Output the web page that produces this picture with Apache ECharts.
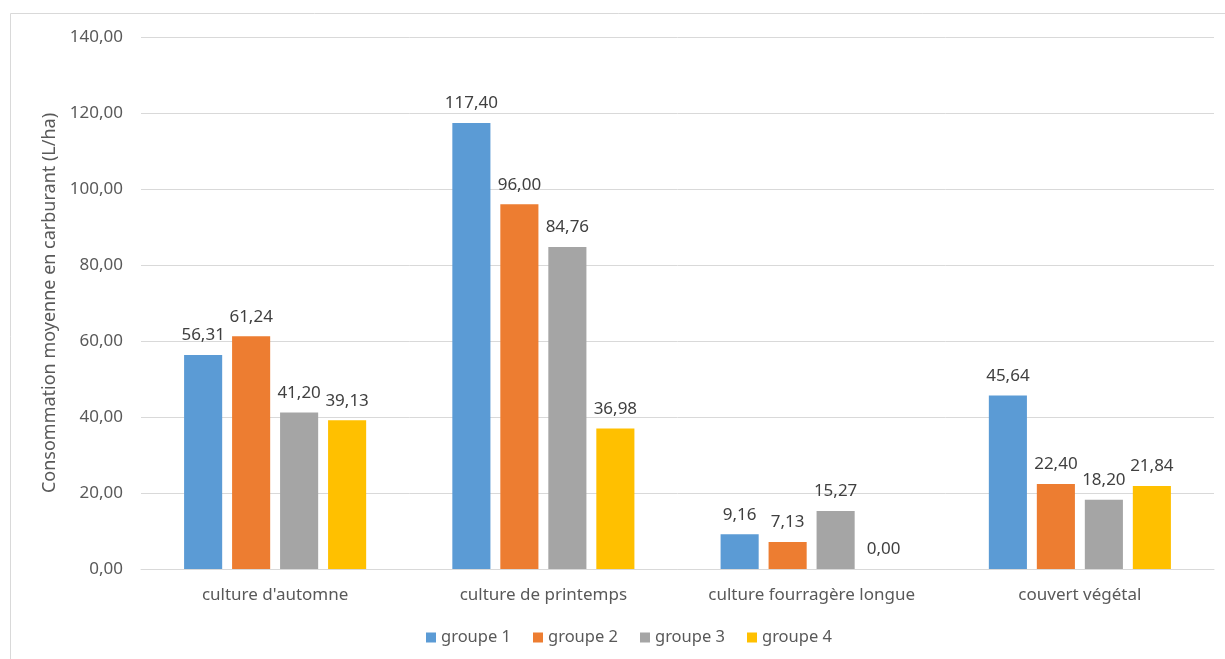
<!DOCTYPE html>
<html><head><meta charset="utf-8">
<script src="https://cdn.jsdelivr.net/npm/echarts@6/dist/echarts.min.js"></script>
<style>html,body{margin:0;padding:0;background:#fff}#c{width:1225px;height:659px}</style>
</head><body><div id="c"></div>
<script>
const categories = ["culture d'automne", "culture de printemps", "culture fourragère longue", "couvert végétal"];
const seriesNames = ["groupe 1", "groupe 2", "groupe 3", "groupe 4"];
const groupe1 = [56.31, 117.40, 9.16, 45.64];
const groupe2 = [61.24, 96.00, 7.13, 22.40];
const groupe3 = [41.20, 84.76, 15.27, 18.20];
const groupe4 = [39.13, 36.98, 0.00, 21.84];
const colors = ["#5B9BD5", "#ED7D31", "#A5A5A5", "#FFC000"];
const yTitle = "Consommation moyenne en carburant (L/ha)";

const FONT = "Noto Sans";
const fmt = v => v.toFixed(2).replace('.', ',');
const chart = echarts.init(document.getElementById('c'), null, {renderer: 'canvas'});
const data = [groupe1, groupe2, groupe3, groupe4];
chart.setOption({
  animation: false,
  color: colors,
  textStyle: {fontFamily: FONT},
  graphic: [{type: 'rect', shape: {x: 10.5, y: 13.5, width: 1230, height: 700}, style: {fill: null, stroke: '#d9d9d9', lineWidth: 1}, silent: true}],
  grid: {left: 141, right: 11, top: 37, bottom: 90},
  legend: {
    data: seriesNames, bottom: 8, left: 421, itemWidth: 10, itemHeight: 10, itemGap: 22,
    icon: 'rect', textStyle: {color: '#595959', fontSize: 16.5, fontFamily: FONT}
  },
  xAxis: {
    type: 'category', data: categories,
    axisLine: {lineStyle: {color: '#d9d9d9', width: 1}},
    axisTick: {show: false},
    axisLabel: {color: '#595959', fontSize: 17, margin: 18, interval: 0, fontFamily: FONT}
  },
  yAxis: {
    type: 'value', min: 0, max: 140, interval: 20,
    name: yTitle, nameLocation: 'middle', nameGap: 78, nameRotate: 90,
    nameTextStyle: {color: '#595959', fontSize: 18, fontFamily: FONT},
    axisLabel: {color: '#595959', fontSize: 17, margin: 18, formatter: v => fmt(v), fontFamily: FONT},
    splitLine: {lineStyle: {color: '#d9d9d9', width: 1}},
    axisLine: {show: false}, axisTick: {show: false}
  },
  series: data.map((d, i) => ({
    name: seriesNames[i], type: 'bar', data: d,
    barWidth: '14.2%', barGap: '26%',
    itemStyle: {color: colors[i]},
    label: {show: true, position: 'top', distance: 11, color: '#404040', fontSize: 17, fontFamily: FONT, formatter: p => fmt(p.value)}
  }))
});
</script></body></html>
